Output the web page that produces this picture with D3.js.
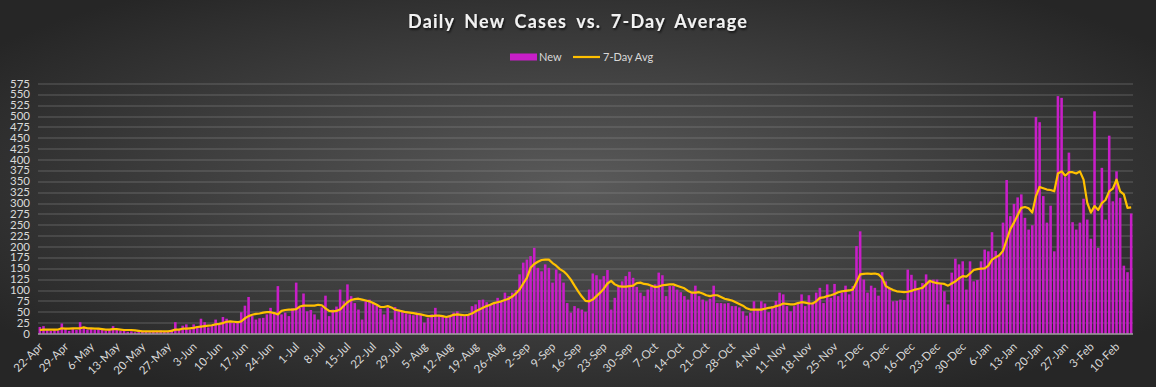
<!DOCTYPE html>
<html>
<head>
  <meta charset="utf-8">
  <title>Daily New Cases vs. 7-Day Average</title>
  <style>
    body { margin: 0; background: #333; }
    svg { display: block; }
    text { font-family: Lato, "Open Sans", sans-serif; }
  </style>
</head>
<body>
  <svg id="chart" width="1156" height="387"></svg>
  <script src="https://d3js.org/d3.v7.min.js"></script>
  <script>
    /******* Data *******/

    // one entry per day, 22-Apr through 14-Feb
    var days = d3.timeDays(new Date(2020, 3, 22), new Date(2021, 1, 15));

    var newCases = [
      15, 17, 8, 6, 9, 7, 23, 10, 6, 12, 8, 26, 14, 9,
      11, 8, 10, 9, 6, 9, 17, 8, 6, 7, 4, 5, 3, 8,
      4, 5, 3, 6, 4, 7, 5, 6, 9, 26, 10, 18, 21, 9,
      21, 16, 34, 26, 14, 20, 32, 22, 38, 34, 25, 24, 27, 49,
      64, 84, 40, 32, 35, 36, 44, 59, 48, 109, 44, 48, 40, 58,
      117, 59, 92, 51, 54, 44, 32, 60, 87, 40, 55, 62, 101, 74,
      113, 86, 70, 55, 32, 74, 78, 72, 64, 57, 44, 59, 32, 61,
      55, 50, 46, 44, 42, 48, 44, 25, 36, 44, 59, 40, 40, 36,
      42, 48, 51, 40, 40, 44, 63, 67, 77, 78, 72, 67, 70, 82,
      74, 94, 86, 94, 100, 136, 163, 170, 178, 197, 151, 143, 159, 151,
      117, 147, 138, 117, 70, 48, 63, 58, 55, 50, 101, 138, 134, 124,
      132, 146, 55, 82, 109, 120, 132, 142, 128, 107, 94, 86, 101, 108,
      113, 140, 134, 86, 109, 109, 101, 95, 86, 78, 94, 110, 86, 78,
      74, 80, 110, 70, 70, 69, 70, 63, 63, 60, 51, 41, 48, 74,
      55, 74, 69, 49, 63, 75, 94, 90, 63, 51, 63, 70, 90, 63,
      88, 70, 94, 105, 70, 113, 82, 114, 86, 94, 110, 90, 109, 201,
      235, 124, 94, 110, 105, 87, 141, 120, 105, 74, 75, 78, 77, 147,
      135, 122, 101, 116, 136, 120, 124, 124, 116, 97, 67, 140, 172, 159,
      166, 101, 166, 120, 123, 166, 193, 189, 233, 190, 178, 255, 353, 270,
      298, 313, 320, 266, 239, 249, 498, 486, 316, 255, 294, 189, 546, 542,
      360, 416, 256, 239, 255, 310, 262, 218, 511, 197, 381, 262, 455, 304,
      373, 312, 156, 141, 276
    ];

    var avg7 = [
      8, 9, 9, 9, 9, 9, 12, 11, 11, 12, 12, 12, 14, 12,
      12, 11, 11, 10, 9, 9, 10, 10, 9, 8, 8, 8, 7, 6,
      5, 5, 5, 5, 5, 5, 5, 5, 6, 9, 9, 11, 11, 12,
      13, 15, 16, 17, 18, 19, 21, 22, 24, 27, 28, 27, 26, 28,
      35, 40, 43, 45, 46, 48, 49, 49, 47, 44, 52, 54, 55, 55,
      56, 62, 64, 64, 64, 64, 66, 65, 58, 52, 51, 52, 55, 64,
      72, 77, 79, 80, 78, 76, 74, 70, 66, 61, 61, 63, 60, 55,
      53, 51, 49, 48, 47, 45, 44, 42, 40, 40, 41, 41, 40, 38,
      40, 43, 44, 43, 42, 43, 46, 51, 55, 59, 63, 66, 70, 72,
      74, 77, 80, 85, 92, 101, 115, 128, 151, 160, 165, 169, 170, 170,
      162, 156, 148, 143, 135, 124, 110, 97, 85, 75, 74, 78, 86, 94,
      103, 115, 121, 113, 109, 108, 108, 109, 110, 116, 117, 114, 113, 110,
      107, 108, 111, 112, 113, 113, 110, 107, 104, 98, 94, 94, 95, 92,
      88, 86, 88, 88, 84, 80, 78, 76, 72, 68, 64, 58, 55, 55,
      55, 55, 57, 59, 60, 63, 65, 69, 68, 67, 67, 70, 72, 71,
      69, 69, 74, 82, 83, 86, 88, 91, 95, 97, 98, 99, 101, 118,
      136, 137, 138, 137, 138, 136, 128, 109, 104, 100, 97, 96, 95, 96,
      98, 101, 103, 105, 113, 121, 118, 116, 115, 114, 110, 115, 120, 127,
      132, 131, 138, 146, 148, 149, 150, 156, 170, 175, 180, 190, 215, 240,
      255, 272, 289, 291, 288, 278, 316, 337, 334, 331, 330, 327, 368, 373,
      363, 371, 371, 368, 373, 354, 301, 278, 293, 284, 300, 307, 327, 333,
      354, 327, 320, 289, 290
    ];

    var tickLabels = [
      "22-Apr", "29-Apr", "6-May", "13-May", "20-May", "27-May", "3-Jun", "10-Jun",
      "17-Jun", "24-Jun", "1-Jul", "8-Jul", "15-Jul", "22-Jul", "29-Jul", "5-Aug",
      "12-Aug", "19-Aug", "26-Aug", "2-Sep", "9-Sep", "16-Sep", "23-Sep", "30-Sep",
      "7-Oct", "14-Oct", "21-Oct", "28-Oct", "4-Nov", "11-Nov", "18-Nov", "25-Nov",
      "2-Dec", "9-Dec", "16-Dec", "23-Dec", "30-Dec", "6-Jan", "13-Jan", "20-Jan",
      "27-Jan", "3-Feb", "10-Feb"
    ];

    var yTicks = [0, 25, 50, 75, 100, 125, 150, 175, 200, 225, 250, 275, 300,
      325, 350, 375, 400, 425, 450, 475, 500, 525, 550, 575];

    /******* Setup *******/

    var svg = d3.select("svg"),
        W = +svg.attr("width"),
        H = +svg.attr("height"),
        margin = {top: 83.5, right: 23, bottom: 53.5, left: 38},
        width = W - margin.left - margin.right,
        height = H - margin.top - margin.bottom;

    var defs = svg.append("defs");
    var grad = defs.append("radialGradient")
      .attr("id", "bg")
      .attr("cx", "50%").attr("cy", "48%").attr("r", "62%");
    grad.append("stop").attr("offset", "0%").attr("stop-color", "#5a5a5a");
    grad.append("stop").attr("offset", "100%").attr("stop-color", "#262626");

    var shadow = defs.append("filter").attr("id", "shadow")
      .attr("x", "-10%").attr("y", "-30%").attr("width", "120%").attr("height", "160%");
    shadow.append("feDropShadow")
      .attr("dx", 1).attr("dy", 1.5).attr("stdDeviation", 1)
      .attr("flood-color", "#000").attr("flood-opacity", 0.8);

    svg.append("rect")
      .attr("width", W).attr("height", H)
      .attr("fill", "url(#bg)");

    var graph = svg.append("g")
      .attr("transform", "translate(" + margin.left + "," + margin.top + ")");

    var x = d3.scaleBand()
      .domain(days.map(function(d, i) { return i; }))
      .range([0, width])
      .paddingInner(0.3)
      .paddingOuter(0.15);

    var y = d3.scaleLinear()
      .domain([0, 575])
      .range([height, 0]);

    var cx = function(i) { return x(i) + x.bandwidth() / 2; };

    /******* Grid and axes *******/

    graph.append("g")
      .selectAll("line")
      .data(yTicks.slice(1))
      .enter().append("line")
      .attr("x1", 0).attr("x2", width)
      .attr("y1", function(d) { return Math.round(y(d)) + 0.5; })
      .attr("y2", function(d) { return Math.round(y(d)) + 0.5; })
      .attr("stroke", "#9a9a9a")
      .attr("stroke-opacity", 0.45);

    graph.append("g")
      .selectAll("text")
      .data(yTicks)
      .enter().append("text")
      .attr("x", -8)
      .attr("y", function(d) { return y(d); })
      .attr("dy", "0.35em")
      .attr("text-anchor", "end")
      .attr("fill", "#d9d9d9")
      .attr("font-size", 11.5)
      .text(function(d) { return d; });

    //Bars
    graph.append("g")
      .selectAll("rect")
      .data(newCases)
      .enter().append("rect")
      .attr("x", function(d, i) { return x(i); })
      .attr("y", function(d) { return y(d); })
      .attr("width", x.bandwidth())
      .attr("height", function(d) { return height - y(d); })
      .attr("fill", "#c81ec8");

    //Baseline
    graph.append("line")
      .attr("x1", 0).attr("x2", width)
      .attr("y1", height + 0.5).attr("y2", height + 0.5)
      .attr("stroke", "#d9d9d9");

    //7-day average line
    var line = d3.line()
      .x(function(d, i) { return cx(i); })
      .y(function(d) { return y(d); });

    graph.append("path")
      .datum(avg7)
      .attr("d", line)
      .attr("fill", "none")
      .attr("stroke", "#ffc000")
      .attr("stroke-width", 2.2)
      .attr("stroke-linejoin", "round");

    //X labels, one per week
    graph.append("g")
      .selectAll("text")
      .data(tickLabels)
      .enter().append("text")
      .attr("transform", function(d, i) {
        return "translate(" + (cx(i * 7) + 1) + "," + (height + 11) + ") rotate(-45)";
      })
      .attr("text-anchor", "end")
      .attr("dy", "0.35em")
      .attr("fill", "#d9d9d9")
      .attr("font-size", 11.5)
      .text(function(d) { return d; });

    /******* Title and legend *******/

    svg.append("text")
      .attr("x", W / 2)
      .attr("y", 28)
      .attr("text-anchor", "middle")
      .attr("fill", "#f2f2f2")
      .attr("font-size", 18)
      .attr("font-weight", "bold")
      .attr("letter-spacing", 1.2)
      .attr("word-spacing", 4)
      .attr("filter", "url(#shadow)")
      .text("Daily New Cases vs. 7-Day Average");

    var legend = svg.append("g").attr("font-size", 11).attr("fill", "#d9d9d9");

    legend.append("rect")
      .attr("x", 510).attr("y", 53.5)
      .attr("width", 27).attr("height", 7)
      .attr("fill", "#c81ec8");
    legend.append("text")
      .attr("x", 539).attr("y", 57).attr("dy", "0.35em")
      .text("New");

    legend.append("line")
      .attr("x1", 573).attr("x2", 600)
      .attr("y1", 57).attr("y2", 57)
      .attr("stroke", "#ffc000")
      .attr("stroke-width", 2.2);
    legend.append("text")
      .attr("x", 603).attr("y", 57).attr("dy", "0.35em")
      .text("7-Day Avg");
  </script>
</body>
</html>
